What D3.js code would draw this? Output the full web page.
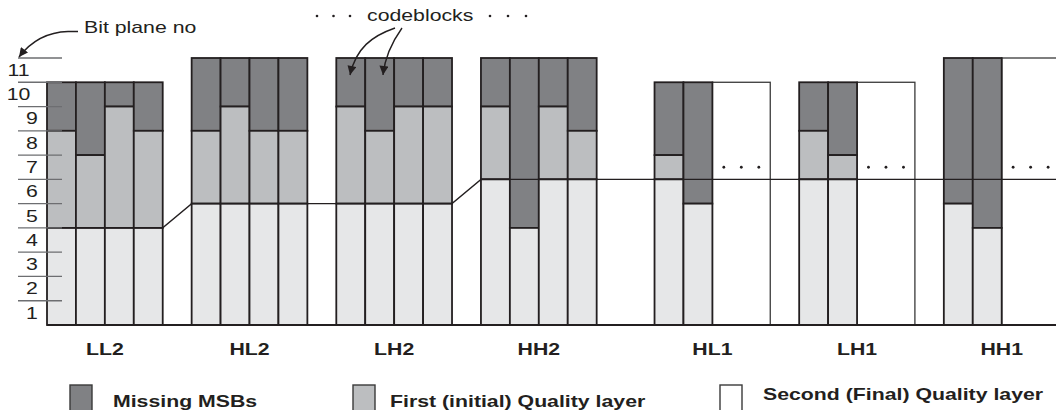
<!DOCTYPE html>
<html><head><meta charset="utf-8">
<script src="https://cdn.jsdelivr.net/npm/d3@7"></script>
<style>
html,body{margin:0;padding:0;background:#fff;}
svg{display:block;}
</style></head>
<body>
<svg id="chart" width="1056" height="410"></svg>
<script>
// ---- data ----
const subbands = ["LL2", "HL2", "LH2", "HH2", "HL1", "LH1", "HH1"];
const decompLevel = [2, 2, 2, 2, 1, 1, 1];
const msbPlane = [10, 11, 11, 11, 10, 10, 11];          // top bit plane of each subband
const finalLayerTop = [4, 5, 5, 6, 6, 6, 6];              // top of second (final) quality layer
const missingDownTo = [                                   // bottom of missing MSBs per codeblock
  [8, 7, 9, 8],
  [8, 9, 8, 8],
  [9, 8, 9, 9],
  [9, 4, 9, 8],
  [7, 5],
  [8, 7],
  [5, 4]
];
const bitPlaneTicks = [1, 2, 3, 4, 5, 6, 7, 8, 9, 10, 11];
const legendLabels = ["Missing MSBs", "First (initial) Quality layer", "Second (Final) Quality layer"];
const layerColors = ["#808184", "#bcbec0", "#e6e7e8"];

// ---- setup ----
const W = 1056, H = 410;
const svg = d3.select("#chart");
const FONT = "'Liberation Sans', Arial, Helvetica, sans-serif";
const SX = 1.33; // horizontal stretch of the original lettering
const ink = "#231f20";

const y = d3.scaleLinear().domain([0, 11]).range([325, 58]);
const x = d3.scaleLinear().domain([0, 36]).range([47, 47 + 36 * 28.93]);

// slot positions of each subband (4 slots wide, wider gap between decomposition levels)
const starts = [];
subbands.forEach((s, i) => {
  if (i === 0) starts.push(0);
  else starts.push(starts[i - 1] + 4 + (decompLevel[i] !== decompLevel[i - 1] ? 2 : 1));
});

function stretchedText(g, str, px, py, opts) {
  const t = g.append("text")
    .attr("transform", `translate(${px},${py}) scale(${SX},1)`)
    .attr("font-family", FONT)
    .attr("font-size", opts.size || 16)
    .attr("font-weight", opts.weight || "normal")
    .attr("text-anchor", opts.anchor || "start")
    .attr("fill", opts.fill || ink)
    .text(str);
  return t;
}

// ---- codeblock segments ----
const segs = [];
const boxes = [];
subbands.forEach((name, i) => {
  missingDownTo[i].forEach((m, j) => {
    const s0 = starts[i] + j, s1 = s0 + 1;
    segs.push({s0, s1, top: msbPlane[i], bot: m, c: layerColors[0]});
    if (m > finalLayerTop[i]) {
      segs.push({s0, s1, top: m, bot: finalLayerTop[i], c: layerColors[1]});
      segs.push({s0, s1, top: finalLayerTop[i], bot: 0, c: layerColors[2]});
    } else {
      segs.push({s0, s1, top: m, bot: 0, c: layerColors[2]});
    }
  });
  if (missingDownTo[i].length < 4) {
    boxes.push({s0: starts[i] + missingDownTo[i].length, s1: starts[i] + 4, top: msbPlane[i]});
  }
});

const gBars = svg.append("g");
gBars.selectAll("rect.box").data(boxes).join("rect")
  .attr("class", "box")
  .attr("x", d => x(d.s0)).attr("y", d => y(d.top))
  .attr("width", d => x(d.s1) - x(d.s0)).attr("height", d => y(0) - y(d.top))
  .attr("fill", "#fff").attr("stroke", "#3a3a3a").attr("stroke-width", 1.3);

gBars.selectAll("rect.seg").data(segs).join("rect")
  .attr("class", "seg")
  .attr("x", d => x(d.s0)).attr("y", d => y(d.top))
  .attr("width", d => x(d.s1) - x(d.s0)).attr("height", d => y(d.bot) - y(d.top))
  .attr("fill", d => d.c).attr("stroke", ink).attr("stroke-width", 1.8);

// ellipsis dots in the empty boxes
boxes.forEach(b => {
  const cx = (x(b.s0) + x(b.s1)) / 2;
  [-17.5, 0, 17.5].forEach(dx => {
    svg.append("circle").attr("cx", cx + dx).attr("cy", y(6.5)).attr("r", 1.4).attr("fill", ink);
  });
});

// ---- quality layer boundary line ----
const linePts = [];
subbands.forEach((name, i) => {
  linePts.push([x(starts[i]), y(finalLayerTop[i])]);
  linePts.push([x(starts[i] + 4), y(finalLayerTop[i])]);
});
linePts.push([W, y(finalLayerTop[finalLayerTop.length - 1])]);
svg.append("path").attr("d", d3.line()(linePts))
  .attr("fill", "none").attr("stroke", ink).attr("stroke-width", 1.4);

// baseline
svg.append("line").attr("x1", x(0)).attr("x2", W).attr("y1", y(0)).attr("y2", y(0))
  .attr("stroke", ink).attr("stroke-width", 2);

// ---- bit plane axis ----
const gAx = svg.append("g");
gAx.selectAll("line").data(bitPlaneTicks).join("line")
  .attr("x1", 18).attr("x2", 62)
  .attr("y1", d => y(d)).attr("y2", d => y(d))
  .attr("stroke", "#6d6e71").attr("stroke-width", 1.3);
bitPlaneTicks.forEach(d => {
  const cx = String(d).length > 1 ? 18.5 : 32;
  stretchedText(gAx, String(d), cx, (y(d) + y(d - 1)) / 2 + 5.8, {size: 16, anchor: "middle"});
});

// ---- subband labels ----
subbands.forEach((name, i) => {
  stretchedText(svg, name, x(starts[i] + 2), 355, {size: 16, weight: "bold", anchor: "middle"});
});

// ---- annotations ----
const defs = svg.append("defs");
defs.append("marker").attr("id", "ah")
  .attr("viewBox", "0 0 10 10").attr("refX", 10).attr("refY", 5)
  .attr("markerWidth", 10).attr("markerHeight", 9)
  .attr("markerUnits", "userSpaceOnUse").attr("orient", "auto")
  .append("path").attr("d", "M0,0 L10,5 L0,10 z").attr("fill", ink);

stretchedText(svg, "Bit plane no", 84, 33, {size: 16});
svg.append("path").attr("d", "M78,31.5 L68,31.5 C50,32 32,40 19,57")
  .attr("fill", "none").attr("stroke", ink).attr("stroke-width", 1.5).attr("marker-end", "url(#ah)");

stretchedText(svg, "codeblocks", 367, 21, {size: 16});
[317, 333.5, 350, 490, 508, 526].forEach(cx => {
  svg.append("circle").attr("cx", cx).attr("cy", 16).attr("r", 1.3).attr("fill", ink);
});
svg.append("path").attr("d", "M395,28 C372,36 356,48 350,75")
  .attr("fill", "none").attr("stroke", ink).attr("stroke-width", 1.4).attr("marker-end", "url(#ah)");
svg.append("path").attr("d", "M402,28 C392,42 385,56 383,75")
  .attr("fill", "none").attr("stroke", ink).attr("stroke-width", 1.4).attr("marker-end", "url(#ah)");

// ---- legend ----
const legSwX = [70, 353, 720];
const legTxtX = [113, 390, 763];
const legTxtY = [407, 407, 400];
const legFill = [layerColors[0], layerColors[1], "#fff"];
legendLabels.forEach((lab, i) => {
  svg.append("rect").attr("x", legSwX[i]).attr("y", 385).attr("width", 22).attr("height", 30)
    .attr("fill", legFill[i]).attr("stroke", "#3a3a3a").attr("stroke-width", 1.4);
  stretchedText(svg, lab, legTxtX[i], legTxtY[i], {size: 16, weight: "bold"});
});
</script>
</body></html>
